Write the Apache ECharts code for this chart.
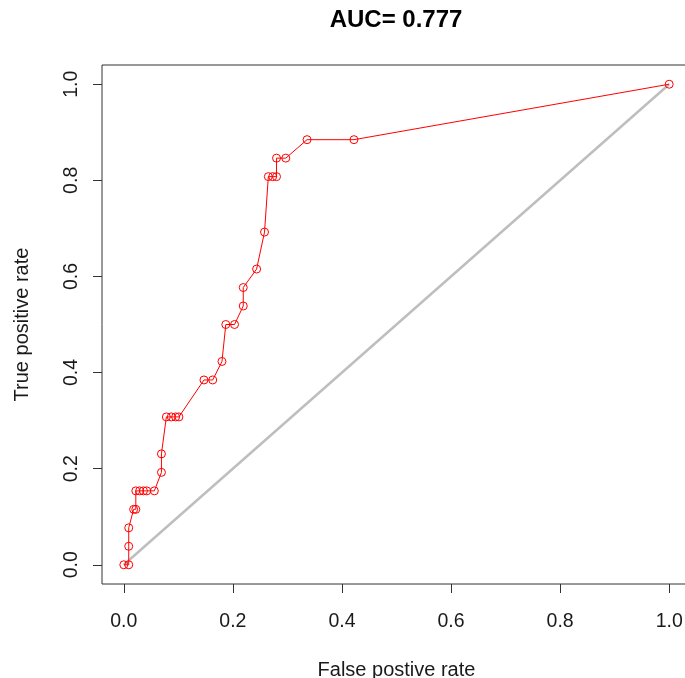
<!DOCTYPE html>
<html>
<head>
<meta charset="utf-8">
<script src="https://cdn.jsdelivr.net/npm/echarts@6/dist/echarts.min.js"></script>
<style>
html,body{margin:0;padding:0;background:#fff;}
#chart{width:685px;height:678px;}
</style>
</head>
<body>
<div id="chart"></div>
<script>
const titleText = "AUC= 0.777";
const xName = "False postive rate";
const yName = "True positive rate";
const tickValues = [0, 0.2, 0.4, 0.6, 0.8, 1.0];

const fpr = [0, 0.009, 0.009, 0.009, 0.018, 0.022, 0.022, 0.029, 0.036, 0.042, 0.056,
  0.069, 0.069, 0.078, 0.087, 0.095, 0.101, 0.147, 0.163, 0.180, 0.187, 0.203,
  0.219, 0.219, 0.2435, 0.258, 0.265, 0.273, 0.280, 0.280, 0.297, 0.336, 0.422, 1.0];
const tpr = [0, 0, 0.0385, 0.0769, 0.1154, 0.1154, 0.1538, 0.1538, 0.1538, 0.1538, 0.1538,
  0.1923, 0.2308, 0.3077, 0.3077, 0.3077, 0.3077, 0.3846, 0.3846, 0.4231, 0.5, 0.5,
  0.5385, 0.5769, 0.6154, 0.6923, 0.8077, 0.8077, 0.8077, 0.8462, 0.8462, 0.8846, 0.8846, 1.0];
const diagX = [0, 1];
const diagY = [0, 1];

const font = "'Liberation Sans', Arial, sans-serif";
const txt = '#1a1a1a';

const chart = echarts.init(document.getElementById('chart'), null, {renderer: 'canvas'});

function axisCommon(name, isY) {
  return {
    type: 'value',
    min: -0.04,
    max: 1.04,
    name: name,
    nameLocation: 'middle',
    nameGap: isY ? 70 : 76,
    nameRotate: isY ? 90 : 0,
    nameTextStyle: {fontFamily: font, fontSize: 20, color: txt},
    splitLine: {show: false},
    axisLine: {show: false, onZero: false},
    axisTick: {show: true, inside: false, length: 9, lineStyle: {color: '#333', width: 1}, customValues: tickValues},
    axisLabel: {
      show: true,
      customValues: tickValues,
      rotate: isY ? 90 : 0,
      margin: isY ? 20 : 28,
      fontFamily: font, fontSize: 19.5, color: txt,
      formatter: v => Number(v).toFixed(1)
    }
  };
}

chart.setOption({
  backgroundColor: '#fff',
  animation: false,
  title: {
    text: titleText,
    left: 391,
    top: 3,
    textAlign: 'center',
    textStyle: {fontFamily: font, fontSize: 24, fontWeight: 'bold', color: '#000'}
  },
  grid: {
    left: 102, top: 65, width: 589, height: 519,
    containLabel: false,
    outerBoundsMode: 'none',
    show: true, borderColor: '#333', borderWidth: 1, backgroundColor: 'transparent'
  },
  xAxis: axisCommon(xName, false),
  yAxis: axisCommon(yName, true),
  series: [
    {
      type: 'line',
      data: diagX.map((x, i) => [x, diagY[i]]),
      symbol: 'none',
      lineStyle: {color: '#bebebe', width: 2.5},
      z: 2
    },
    {
      type: 'line',
      data: fpr.map((x, i) => [x, tpr[i]]),
      symbol: 'circle',
      symbolSize: 8,
      lineStyle: {color: '#ff0000', width: 1},
      itemStyle: {color: 'rgba(0,0,0,0)', borderColor: '#ff0000', borderWidth: 1},
      z: 3
    }
  ]
});
</script>
</body>
</html>
